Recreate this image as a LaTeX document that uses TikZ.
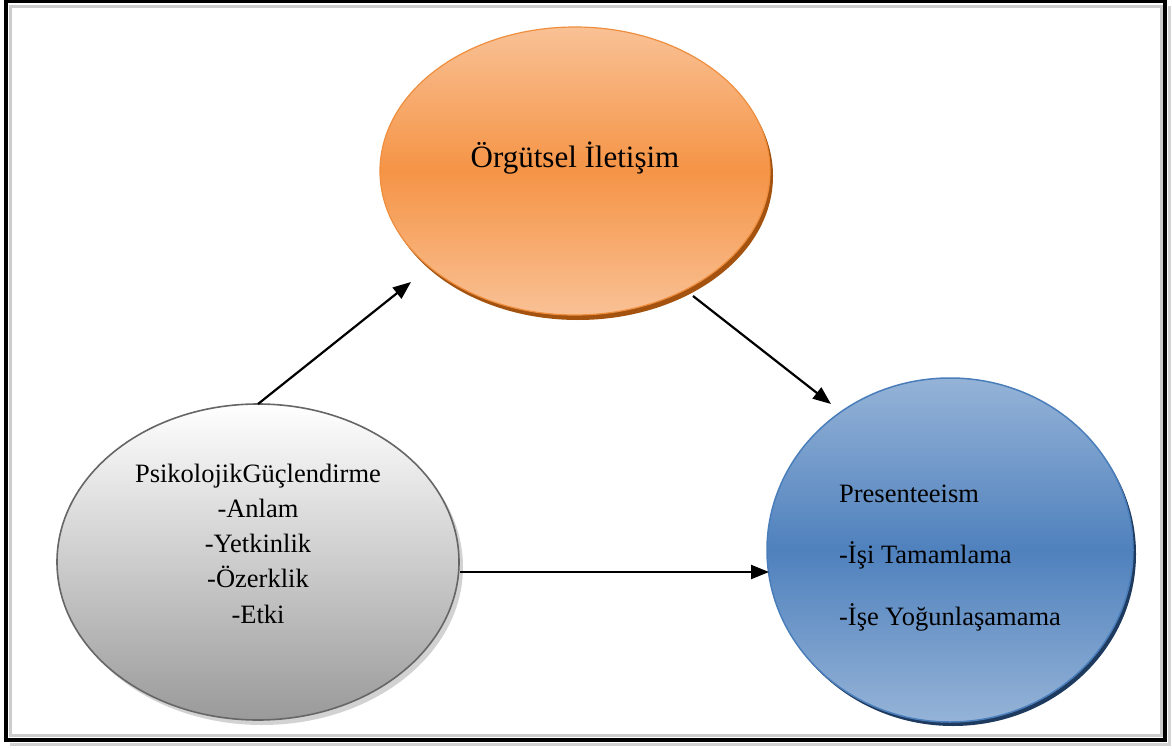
\documentclass[tikz,border=0pt]{standalone}
\usepackage{fontspec}
\setmainfont{Liberation Serif}
\usetikzlibrary{shapes.geometric,arrows.meta}
\definecolor{orLight}{HTML}{F9C195}
\definecolor{orMid}{HTML}{F59446}
\definecolor{orEdge}{HTML}{EE8E3E}
\definecolor{orShadow}{HTML}{A4520F}
\definecolor{blLight}{HTML}{95B3D7}
\definecolor{blMid}{HTML}{4F81BD}
\definecolor{blEdge}{HTML}{4A7EBB}
\definecolor{blShadow}{HTML}{1F3A5F}
\definecolor{grBottom}{HTML}{9A9A9A}
\definecolor{grEdge}{HTML}{666666}
\tikzset{
  bubble/.style={ellipse, inner sep=0pt, align=center, text=black},
  arr/.style={draw=black, line width=2.2pt, -{Triangle[length=18pt,width=14pt]}},
}
\begin{document}
\begin{tikzpicture}[x=1pt,y=-1pt]
\useasboundingbox (0,0) rectangle (1172,749);
% frame
\draw[gray!35, line width=3pt] (1169,6) -- (1169,744) -- (10,744);
\draw[gray!40, line width=3pt] (10.5,6.5) rectangle (1161,735.5);
\draw[black, line width=4pt] (6,1.5) rectangle (1165,740);
% shadows
\fill[orShadow] (578,176) ellipse [x radius=195pt, y radius=144pt];
\fill[gray!35] (262,567) ellipse [x radius=201pt, y radius=158pt];
\fill[blShadow] (953,554) ellipse [x radius=183pt, y radius=172pt];
% nodes
\node[bubble, draw=orEdge, line width=1.2pt, top color=orLight, bottom color=orLight, middle color=orMid,
      minimum width=390pt, minimum height=288pt,
      font=\fontsize{31}{38}\selectfont] (o) at (575,171) {\raisebox{3pt}[0pt][0pt]{Örgütsel İletişim}};
\node[bubble, draw=grEdge, line width=1.6pt, top color=white, bottom color=grBottom,
      minimum width=402pt, minimum height=316pt,
      font=\fontsize{26.5}{35.25}\selectfont] (g) at (258,562) {\raisebox{-61pt}[0pt][0pt]{\begin{tabular}[b]{@{}c@{}}PsikolojikGüçlendirme\\-Anlam\\-Yetkinlik\\-Özerklik\\-Etki\end{tabular}}};
\node[bubble, draw=blEdge, line width=1.5pt, top color=blLight, bottom color=blLight, middle color=blMid,
      minimum width=366pt, minimum height=344pt,
      font=\fontsize{26.5}{61.5}\selectfont] (b) at (950,550) {\raisebox{-75pt}[0pt][0pt]{\begin{tabular}[b]{@{}l@{}}Presenteeism\\-İşi Tamamlama\\-İşe Yoğunlaşamama\end{tabular}}};
% arrow ends
\coordinate (a1s) at (258,404);
\coordinate (a1e) at (411,282);
\coordinate (a2s) at (693,296);
\coordinate (a2e) at (831,404);
\coordinate (a3s) at (460,572);
\coordinate (a3e) at (769,572);
\draw[arr] (a1s) -- (a1e);
\draw[arr] (a2s) -- (a2e);
\draw[arr] (a3s) -- (a3e);
\end{tikzpicture}
\end{document}
